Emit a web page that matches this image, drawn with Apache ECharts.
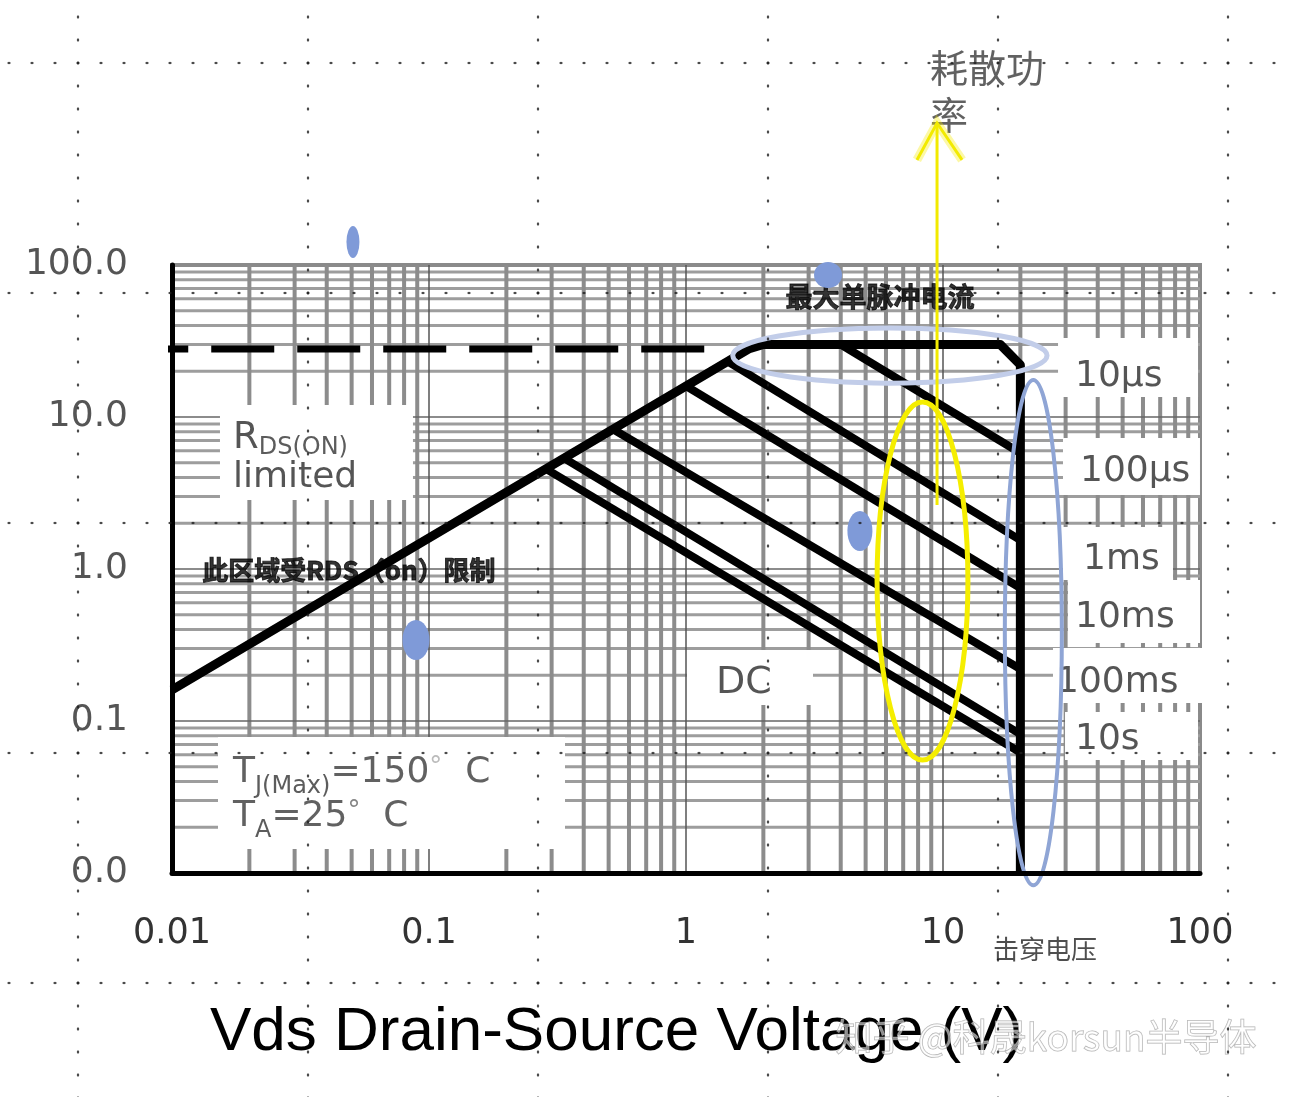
<!DOCTYPE html>
<html><head><meta charset="utf-8">
<script src="https://cdn.jsdelivr.net/npm/echarts@6/dist/echarts.min.js"></script>
<style>
html,body{margin:0;padding:0;background:#fff;}
#wrap{position:relative;width:1289px;height:1097px;overflow:hidden;}
#chart{position:absolute;left:0;top:0;width:1289px;height:1097px;}
#dots{position:absolute;left:0;top:0;width:1289px;height:1097px;pointer-events:none;
 background-image: radial-gradient(circle, rgba(30,30,30,0.95) 0.9px, rgba(0,0,0,0) 1.6px), radial-gradient(circle, rgba(30,30,30,0.95) 0.9px, rgba(0,0,0,0) 1.6px);
 background-size: 230px 23px, 23px 230px;
 background-position: -37px 5.5px, -2.5px -52px;}
</style></head>
<body><div id="wrap"><div id="chart"></div><div id="dots"></div></div>
<script>
// ---- tick labels ----
const xTickLabels = ['0.01','0.1','1','10','100'];
const yTickLabels = ['0.0','0.1','1.0','10.0','100.0'];
// ---- log grid lines ----
const xMinorGrid = [0.02,0.03,0.04,0.05,0.06,0.07,0.08,0.09,0.2,0.3,0.4,0.5,0.6,0.7,0.8,0.9,2,3,4,5,6,7,8,9,20,30,40,50,60,70,80,90];
const yMinorGrid = [0.02,0.03,0.04,0.05,0.06,0.07,0.08,0.09,0.2,0.3,0.4,0.5,0.6,0.7,0.8,0.9,2,3,4,5,6,7,8,9,20,30,40,50,60,70,80,90];
const xMajorGrid = [0.1,1,10];
const yMajorGrid = [0.1,1,10];
// ---- SOA curves (Vds [V], Id [A]) ----
const soaBoundary = [[0.01,0.16],[1.75,28],[2.0,30],[16.7,30],[20,22],[20,0.01]];
const maxPulseDashed = [[0.009,28],[1.26,28]];
const line10us = [[4.0,30],[20,5.8]];
const line100us = [[1.45,23.2],[20,1.55]];
const line1ms = [[1.0,16],[20,0.75]];
const line10ms = [[0.52,8.3],[20,0.22]];
const line100ms = [[0.335,5.36],[20,0.082]];
const lineDC = [[0.285,4.56],[20,0.062]];
// ---- annotation anchors (data coords) ----
const boxAnchors = [[28.03,21.17],[29.3,4.725],[29.3,1.265],[30.65,0.5253],[26.79,0.1992],[29.84,0.0797],[1.009,0.1933],[0.01537,5.841],[0.0151,0.0336]];
const boxTexts = ['10µs','100µs','1ms','10ms','100ms','10s','{dc|DC}','{r|R}{sub|DS(ON)}\n{n|limited}','{t|T}{sub|J(Max)}{t|=150}{deg|°}{t|  C}\n{t|T}{sub|A}{t|=25}{deg2|°}{t|  C}'];
const noteAnchors = [[5.69,61.5],[0.0131,0.985],[8.90,1385],[15.65,0.00316]];
const noteTexts = ['最大单脉冲电流','此区域受RDS（on）限制','耗散功\n率','击穿电压'];
const ellipseBounds = [[1.52,38.5,25.4,16.7],[17.4,17.5,29.0,0.0083],[5.54,12.56,12.5,0.0554]];
const arrowShaft = [[9.48,2.64],[9.48,859]];
const arrowHead = [[7.92,491],[9.48,859],[11.86,491]];
const blobPoints = [[0.0506,141.6],[3.57,85.9],[4.75,1.778],[0.089,0.341]];

// ---- styles ----
const boxSizes = [[140,59],[137,57],[110,53],[132,63],[152,55],[133,48],[126,55],[193,95],[347,112]];
const boxTextPadding = [[19,0,0,17],[14,0,3,17],[13,0,0,20],[18,0,5,7],[15,0,0,3],[8,0,0,10],[13,0,2,29],[12,0,1,13],[12,0,0,15]];
const noteStyles = [
 {align:'center',fontSize:27,fontWeight:'bold',color:'#000',textBorderColor:'#000',textBorderWidth:0.9},
 {align:'left',fontSize:26,fontWeight:'bold',color:'#000',textBorderColor:'#000',textBorderWidth:0.9},
 {align:'left',fontSize:38,fontWeight:'normal',color:'#3a3a3a',lineHeight:47},
 {align:'left',fontSize:26,fontWeight:'normal',color:'#222'}
];
const ellipseStyles = [
 {stroke:'#c2cde9',lineWidth:5},
 {stroke:'#8fa5d5',lineWidth:4},
 {stroke:'#f5ee00',lineWidth:5}
];
const blobSizes = [[13,32],[28,26],[25,40],[27,40]];

const chart = echarts.init(document.getElementById('chart'), null, {renderer:'canvas'});

function curve(name,data,w){
  return {name,type:'line',data,symbol:'none',z:4,clip:false,silent:true,
    lineStyle:{color:'#000',width:w,cap:'butt',join:'round'}};
}

const option = {
  animation:false,
  backgroundColor:'transparent',
  title:{text:'Vds Drain-Source Voltage (V)',left:210,top:1002,padding:0,
    textStyle:{fontFamily:'Liberation Sans',fontSize:62,fontWeight:'normal',color:'#000'}},
  grid:{left:172,top:265,width:1028,height:608,show:true,borderColor:'#8a8a8a',borderWidth:4,backgroundColor:'transparent',z:0},
  xAxis:{type:'log',logBase:10,min:0.01,max:100,z:10,
    axisLine:{show:true,lineStyle:{color:'#000',width:5}},
    axisTick:{show:false},splitLine:{show:false},
    axisLabel:{formatter:(v,i)=>xTickLabels[i],fontFamily:'DejaVu Sans',fontSize:35,color:'#333',margin:43}},
  yAxis:{type:'log',logBase:10,min:0.01,max:100,z:10,
    axisLine:{show:true,lineStyle:{color:'#000',width:5}},
    axisTick:{show:false},splitLine:{show:false},
    axisLabel:{formatter:(v,i)=>yTickLabels[i],fontFamily:'DejaVu Sans',fontSize:36,color:'#555',margin:44}},
  graphic:[{type:'text',left:835,top:1018,z:100,silent:true,
    style:{text:'知乎 @科晟korsun半导体',font:'37px "Noto Sans CJK SC"',fill:'rgba(255,255,255,0.55)',stroke:'rgba(120,120,120,0.6)',lineWidth:1}}],
  series:[
    {name:'gridLines',type:'custom',z:1,silent:true,clip:false,data:[0],
      renderItem:(params,api)=>{
        const ch=[];
        const xLo=0.01,xHi=100,yLo=0.01,yHi=100;
        const vline=(v,c,w)=>{const a=api.coord([v,yLo]),b=api.coord([v,yHi]);
          ch.push({type:'line',shape:{x1:a[0],y1:a[1],x2:b[0],y2:b[1]},style:{stroke:c,lineWidth:w}});};
        const hline=(v,c,w)=>{const a=api.coord([xLo,v]),b=api.coord([xHi,v]);
          ch.push({type:'line',shape:{x1:a[0],y1:a[1],x2:b[0],y2:b[1]},style:{stroke:c,lineWidth:w}});};
        yMinorGrid.forEach(v=>hline(v,'#9d9d9d',3));
        xMinorGrid.forEach(v=>vline(v,'#8c8c8c',4));
        yMajorGrid.forEach(v=>hline(v,'#666',1.5));
        xMajorGrid.forEach(v=>vline(v,'#555',1.5));
        return {type:'group',children:ch};
      }},
    {name:'boxBg',type:'custom',z:2,silent:true,clip:false,data:boxAnchors,
      renderItem:(params,api)=>{
        const p=api.coord([api.value(0),api.value(1)]);
        const s=boxSizes[params.dataIndex];
        return {type:'rect',shape:{x:p[0],y:p[1]-s[1]/2,width:s[0],height:s[1]},style:{fill:'#ffffff',stroke:null}};
      }},
    {name:'boxText',type:'scatter',z:3,silent:true,clip:false,symbolSize:1,itemStyle:{color:'rgba(0,0,0,0)'},
      data:boxAnchors.map((a,i)=>({value:a,label:{show:true,position:'inside',align:'left',verticalAlign:'middle',
        formatter:boxTexts[i],padding:boxTextPadding[i],
        fontFamily:'DejaVu Sans',fontSize:36,lineHeight:40,color:'#2b2b2b',
        rich:{
          dc:{fontFamily:'DejaVu Sans',fontSize:38,lineHeight:40,color:'#2b2b2b'},
          r:{fontFamily:'DejaVu Sans',fontSize:37,lineHeight:40,padding:[0,0,6,0],verticalAlign:'top',color:'#2b2b2b'},
          sub:{fontFamily:'DejaVu Sans',fontSize:24,lineHeight:24,verticalAlign:'bottom',color:'#333'},
          n:{fontFamily:'DejaVu Sans',fontSize:36,lineHeight:36,color:'#2b2b2b'},
          t:{fontFamily:'DejaVu Sans',fontSize:36,lineHeight:44,padding:[0,0,6,0],verticalAlign:'top',color:'#3a3a3a'},
          deg:{fontFamily:'DejaVu Sans',fontSize:26,lineHeight:26,verticalAlign:'top',color:'#aaa'},
          deg2:{fontFamily:'DejaVu Sans',fontSize:26,lineHeight:26,verticalAlign:'top',color:'#666'}
        }}}))},
    {name:'maxPulse',type:'line',data:maxPulseDashed,symbol:'none',z:4,clip:false,silent:true,
      lineStyle:{color:'#000',width:7,type:[63,23],dashOffset:35,cap:'butt'}},
    curve('soa',soaBoundary,9),
    curve('10us',line10us,8),
    curve('100us',line100us,8),
    curve('1ms',line1ms,8),
    curve('10ms',line10ms,8),
    curve('100ms',line100ms,8),
    curve('DC',lineDC,8),
    {name:'notes',type:'scatter',z:5,silent:true,clip:false,symbolSize:1,itemStyle:{color:'rgba(0,0,0,0)'},
      data:noteAnchors.map((a,i)=>({value:a,label:Object.assign({show:true,position:'inside',verticalAlign:'middle',
        formatter:noteTexts[i],fontFamily:'Noto Sans CJK SC'},noteStyles[i])}))},
    {name:'ellipses',type:'custom',z:6,silent:true,clip:false,data:ellipseBounds,
      renderItem:(params,api)=>{
        const p1=api.coord([api.value(0),api.value(1)]);
        const p2=api.coord([api.value(2),api.value(3)]);
        const st=ellipseStyles[params.dataIndex];
        return {type:'ellipse',shape:{cx:(p1[0]+p2[0])/2,cy:(p1[1]+p2[1])/2,rx:Math.abs(p2[0]-p1[0])/2,ry:Math.abs(p2[1]-p1[1])/2},
          style:{fill:'none',stroke:st.stroke,lineWidth:st.lineWidth}};
      }},
    {name:'arrow',type:'custom',z:6,silent:true,clip:false,data:[0],
      renderItem:(params,api)=>{
        const shaft=arrowShaft.map(p=>api.coord(p));
        const head=arrowHead.map(p=>api.coord(p));
        return {type:'group',children:[
          {type:'polyline',shape:{points:head},style:{fill:'none',stroke:'rgba(245,235,0,0.35)',lineWidth:9}},
          {type:'polyline',shape:{points:shaft},style:{fill:'none',stroke:'#f2ea00',lineWidth:3}},
          {type:'polyline',shape:{points:head},style:{fill:'none',stroke:'#f2ea00',lineWidth:3}}
        ]};
      }},
    {name:'blobs',type:'scatter',z:6,silent:true,clip:false,symbol:'circle',
      data:blobPoints.map((p,i)=>({value:p,symbolSize:blobSizes[i]})),itemStyle:{color:'#7f9ad8',opacity:1}}
  ]
};
chart.setOption(option);
</script></body></html>
